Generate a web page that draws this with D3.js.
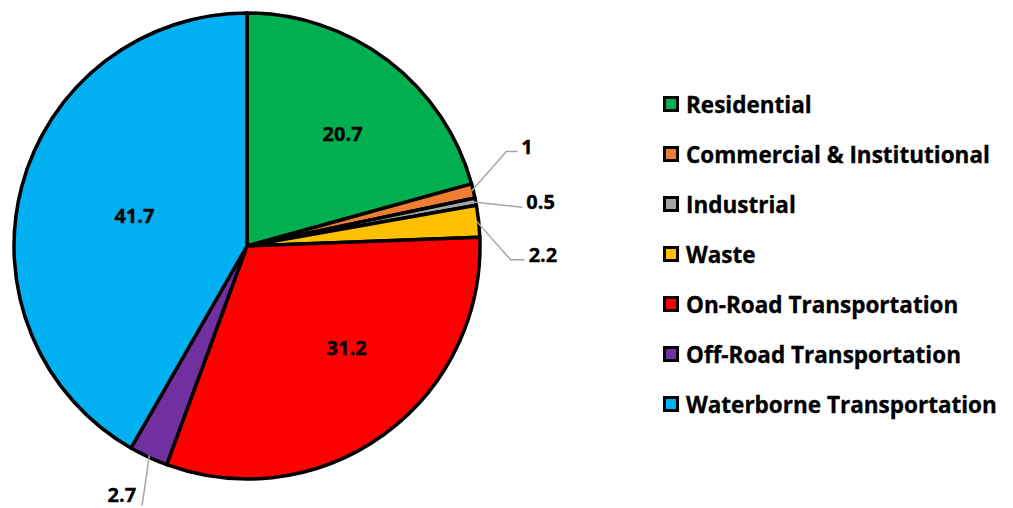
<!DOCTYPE html>
<html>
<head>
<meta charset="utf-8">
<script src="https://cdn.jsdelivr.net/npm/d3@7"></script>
<style>
  body { margin: 0; background: #fff; }
  text { font-family: 'Open Sans', sans-serif; font-weight: bold; stroke: #000; stroke-width: 0.35px; }
</style>
</head>
<body>
<div id="chart"></div>
<script>
const categories = ['Residential', 'Commercial & Institutional', 'Industrial', 'Waste',
  'On-Road Transportation', 'Off-Road Transportation', 'Waterborne Transportation']
const values = [20.7, 1, 0.5, 2.2, 31.2, 2.7, 41.7]
const colors = ['#00B050', '#ED7D31', '#A5A5A5', '#FFC000', '#FF0000', '#7030A0', '#00B0F0']

const WIDTH = 1013
const HEIGHT = 508
const LABEL_SIZE = 20
const LEGEND_SIZE = 22.5

// how each data label sits: inside at a radius fraction, or outside with a leader
const labelStyle = [
  { inside: 0.635, turn: 3 },
  { angle: 70, dist: 276, tail: 11, dy: -5 },
  { angle: 82, dist: 278, tail: 0, dy: -6 },
  { angle: 93, dist: 264, tail: 14, dy: -5 },
  { inside: 0.61, turn: -8.5 },
  { angle: 202, dist: 280, tail: 0, dy: -11 },
  { inside: 0.5, turn: 0 }
]

var svg = d3.select('#chart').append('svg')
  .attr('width', WIDTH)
  .attr('height', HEIGHT)

var cx = 247
var cy = 246
var radius = 233

var pie = d3.pie().sort(null).value(d => d)
var arcs = pie(values)
var arc = d3.arc().innerRadius(0).outerRadius(radius)

var g = svg.append('g').attr('transform', 'translate(' + cx + ',' + cy + ')')

g.selectAll('path.slice')
  .data(arcs)
  .enter().append('path')
  .attr('class', 'slice')
  .attr('d', arc)
  .attr('fill', (d, i) => colors[i])
  .attr('stroke', '#000')
  .attr('stroke-width', 3.5)
  .attr('stroke-linejoin', 'round')

function polar (a, r) {
  return [Math.sin(a) * r, -Math.cos(a) * r]
}

// Labels
arcs.forEach((d, i) => {
  var s = labelStyle[i]
  var mid = (d.startAngle + d.endAngle) / 2
  if (s.inside) {
    var p = polar(mid + s.turn * Math.PI / 180, radius * s.inside)
    g.append('text')
      .attr('x', p[0])
      .attr('y', p[1])
      .attr('text-anchor', 'middle')
      .attr('dominant-baseline', 'central')
      .style('font-size', LABEL_SIZE + 'px')
      .text(values[i])
    return
  }
  var p0 = polar(mid, radius - 2)
  var p1 = polar(s.angle * Math.PI / 180, s.dist)
  var right = p1[0] > 0
  var p2 = [p1[0] + (right ? s.tail : -s.tail), p1[1]]
  g.append('polyline')
    .attr('points', [p0, p1, p2].map(p => p.join(',')).join(' '))
    .attr('fill', 'none')
    .attr('stroke', '#A6A6A6')
    .attr('stroke-width', 1.5)
  g.append('text')
    .attr('x', p2[0] + (right ? 4 : -6))
    .attr('y', p2[1] + s.dy)
    .attr('text-anchor', right ? 'start' : 'end')
    .attr('dominant-baseline', 'central')
    .style('font-size', LABEL_SIZE + 'px')
    .text(values[i])
})

// Legend
var legend = svg.append('g').attr('transform', 'translate(663, 104)')
categories.forEach((c, i) => {
  var row = legend.append('g').attr('transform', 'translate(0,' + (i * 50) + ')')
  row.append('rect')
    .attr('x', 1.5)
    .attr('y', -6.5)
    .attr('width', 13)
    .attr('height', 13)
    .attr('fill', colors[i])
    .attr('stroke', '#000')
    .attr('stroke-width', 3)
  row.append('text')
    .attr('x', 23)
    .attr('y', 0)
    .attr('dominant-baseline', 'central')
    .style('font-size', LEGEND_SIZE + 'px')
    .text(c)
})
</script>
</body>
</html>
